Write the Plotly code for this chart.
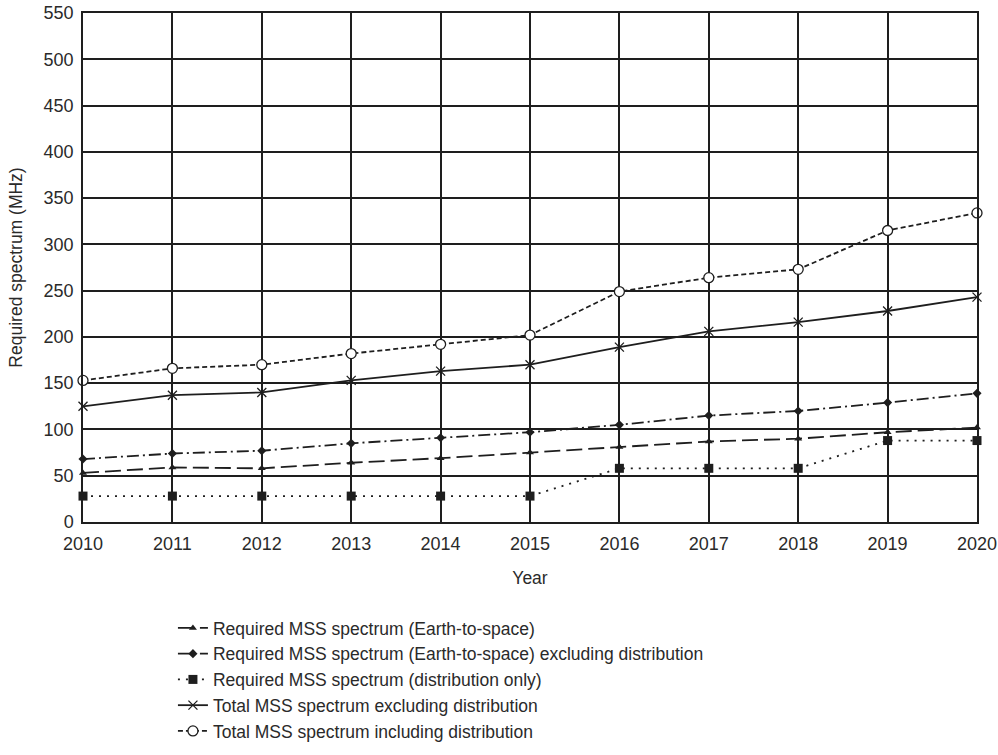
import plotly.graph_objects as go

years = [2010, 2011, 2012, 2013, 2014, 2015, 2016, 2017, 2018, 2019, 2020]
e2s = [53, 59, 58, 64, 69, 75, 81, 87, 90, 97, 102]
e2s_excl = [68, 74, 77, 85, 91, 97, 105, 115, 120, 129, 139]
dist_only = [28, 28, 28, 28, 28, 28, 58, 58, 58, 88, 88]
total_excl = [125, 137, 140, 153, 163, 170, 189, 206, 216, 228, 243]
total_incl = [153, 166, 170, 182, 192, 202, 249, 264, 273, 315, 334]

names = [
    "Required MSS spectrum (Earth-to-space)",
    "Required MSS spectrum (Earth-to-space) excluding distribution",
    "Required MSS spectrum (distribution only)",
    "Total MSS spectrum excluding distribution",
    "Total MSS spectrum including distribution",
]

INK = "#1e1e1e"
fig = go.Figure()
series = [
    (e2s, names[0], "16px,6px", dict(symbol="triangle-up", size=7, color=INK)),
    (e2s_excl, names[1], "12px,4px,2px,4px", dict(symbol="diamond", size=7, color=INK)),
    (dist_only, names[2], "2px,6px", dict(symbol="square", size=9, color=INK)),
    (total_excl, names[3], "solid", dict(symbol="x-thin", size=9, color=INK,
                                          line=dict(width=1.3, color=INK))),
    (total_incl, names[4], "5px,3px", dict(symbol="circle", size=10, color="white",
                                            line=dict(width=1.3, color=INK))),
]
for i, (vals, nm, dash, mk) in enumerate(series):
    fig.add_trace(go.Scatter(
        x=years, y=vals, name=nm, mode="lines+markers", legendgroup=f"g{i}",
        line=dict(color=INK, width=1.8, dash=dash),
        marker=mk, cliponaxis=False,
    ))

fig.update_layout(
    width=998, height=755,
    margin=dict(l=83, r=21, t=13, b=233),
    paper_bgcolor="white", plot_bgcolor="white",
    font=dict(family="Liberation Sans, Arial, sans-serif", size=17.5, color="#2a2a2a"),
    showlegend=True,
    legend=dict(x=0.1006, y=0.192, xref="paper", yref="container",
                xanchor="left", yanchor="top",
                font=dict(size=17.5), tracegroupgap=0,
                bgcolor="rgba(0,0,0,0)"),
)
fig.update_xaxes(
    range=[2010, 2020], tickmode="array", tickvals=years,
    ticktext=[str(y) for y in years], automargin=False,
    tickfont=dict(size=18),
    showgrid=True, gridcolor=INK, gridwidth=1.5,
    showline=True, linecolor=INK, linewidth=1.5, mirror=True,
    zeroline=False, ticks="", ticklabelstandoff=5,
    title=dict(text="Year", standoff=18, font=dict(size=17.5)),
)
fig.update_yaxes(
    range=[0, 550], dtick=50, automargin=False,
    tickfont=dict(size=18),
    showgrid=True, gridcolor=INK, gridwidth=1.5,
    showline=True, linecolor=INK, linewidth=1.5, mirror=True,
    zeroline=False, ticks="", ticklabelstandoff=4,
    title=dict(text="Required spectrum (MHz)", standoff=16, font=dict(size=17.5)),
)

fig.write_html("out.html", config={"displayModeBar": False},
               post_script="document.body.style.margin='0';")
